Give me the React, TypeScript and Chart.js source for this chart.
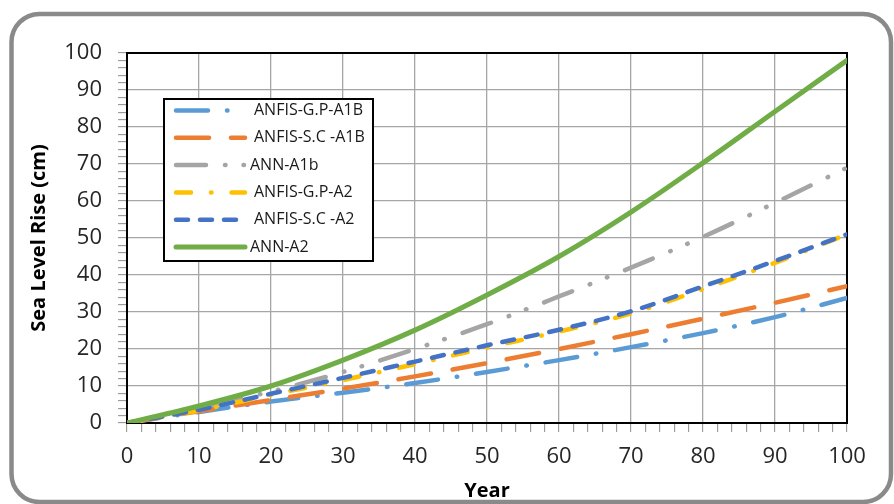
import React, { useEffect, useRef } from "react";
import { Chart, registerables } from "chart.js";

Chart.register(...registerables);

const years = [0, 10, 20, 30, 40, 50, 60, 70, 80, 90, 100];
const seriesNames = ["ANFIS-G.P-A1B", "ANFIS-S.C -A1B", "ANN-A1b", "ANFIS-G.P-A2", "ANFIS-S.C -A2", "ANN-A2"];
const gpA1B = [0, 3, 5.8, 8.2, 10.8, 13.8, 17, 20.5, 24.3, 28.6, 33.8];
const scA1B = [0, 3.2, 6.2, 9.3, 12.6, 16.2, 20, 24, 28.2, 32.5, 37];
const annA1b = [0, 4, 8.5, 13.8, 20, 26.7, 34.2, 42, 50.3, 59.5, 69];
const gpA2 = [0, 3.4, 7.6, 11.6, 15.9, 20.4, 24.7, 29.6, 36.2, 43.3, 51];
const scA2 = [0, 3.6, 7.9, 12.2, 16.6, 21, 25.2, 30.2, 36.9, 43.8, 51];
const annA2 = [0, 4.6, 10, 17, 25.1, 34.6, 45, 57, 70.3, 84.2, 98];
const xTicks = [0, 10, 20, 30, 40, 50, 60, 70, 80, 90, 100];
const yTicks = [0, 10, 20, 30, 40, 50, 60, 70, 80, 90, 100];

const colors = ["#5B9BD5", "#ED7D31", "#A5A5A5", "#FFC000", "#4472C4", "#70AD47"];
const dashes: number[][] = [
  [32, 19, 0.5, 19],
  [33, 22],
  [30, 19, 0.5, 18, 0.5, 19],
  [15, 20, 0.5, 20],
  [12, 12],
  [],
];

const FONT = "'Open Sans', 'Liberation Sans', sans-serif";

const framePlugin = {
  id: "frame",
  beforeDraw(chart: any) {
    const ctx = chart.ctx;
    ctx.save();
    ctx.fillStyle = "#ffffff";
    ctx.fillRect(0, 0, chart.width, chart.height);
    ctx.strokeStyle = "#8a8a8a";
    ctx.lineWidth = 4.5;
    const x = 11.5, y = 14, w = 891 - 11.5, h = 502 - 14, r = 28;
    ctx.beginPath();
    ctx.moveTo(x + r, y);
    ctx.lineTo(x + w - r, y);
    ctx.arcTo(x + w, y, x + w, y + r, r);
    ctx.lineTo(x + w, y + h - r);
    ctx.arcTo(x + w, y + h, x + w - r, y + h, r);
    ctx.lineTo(x + r, y + h);
    ctx.arcTo(x, y + h, x, y + h - r, r);
    ctx.lineTo(x, y + r);
    ctx.arcTo(x, y, x + r, y, r);
    ctx.closePath();
    ctx.stroke();
    ctx.restore();
  },
  beforeDatasetsDraw(chart: any) {
    const { ctx, chartArea } = chart;
    ctx.save();
    ctx.strokeStyle = "#000";
    ctx.lineWidth = 2;
    ctx.strokeRect(chartArea.left, chartArea.top, chartArea.right - chartArea.left, chartArea.bottom - chartArea.top);
    ctx.restore();
  },
  afterDraw(chart: any) {
    const ctx = chart.ctx;
    const bx = 164, by = 99, bw = 209, bh = 162;
    ctx.save();
    ctx.fillStyle = "#fff";
    ctx.fillRect(bx, by, bw, bh);
    ctx.strokeStyle = "#000";
    ctx.lineWidth = 2;
    ctx.strokeRect(bx, by, bw, bh);
    chart.data.datasets.forEach((ds: any, i: number) => {
      const yy = 110.5 + i * 27.3;
      ctx.save();
      ctx.strokeStyle = ds.borderColor;
      ctx.lineWidth = ds.borderWidth;
      ctx.lineCap = "round";
      ctx.setLineDash(ds.borderDash || []);
      ctx.beginPath();
      ctx.moveTo(176, yy);
      ctx.lineTo(245, yy);
      ctx.stroke();
      ctx.restore();
      ctx.fillStyle = "#1a1a1a";
      ctx.font = `16px ${FONT}`;
      ctx.textBaseline = "middle";
      ctx.textAlign = "left";
      ctx.fillText(ds.label, i === 2 || i === 5 ? 250 : 254, yy);
    });
    ctx.restore();
  },
};

const tickLabel = (list: number[]) => (v: any) => (list.includes(Number(v)) ? String(v) : "");

export default function App() {
  const ref = useRef<HTMLCanvasElement | null>(null);
  useEffect(() => {
    if (!ref.current) return;
    const values = [gpA1B, scA1B, annA1b, gpA2, scA2, annA2];
    const chart = new Chart(ref.current, {
      type: "line",
      data: {
        datasets: values.map((vals, i) => ({
          label: seriesNames[i],
          data: years.map((x, j) => ({ x, y: vals[j] })),
          borderColor: colors[i],
          backgroundColor: colors[i],
          borderWidth: i === 5 ? 5 : 4.5,
          borderDash: dashes[i],
          borderCapStyle: "round",
          borderJoinStyle: "round",
          pointRadius: 0,
          fill: false,
          cubicInterpolationMode: "monotone",
          order: 5 - i,
        })),
      },
      options: {
        animation: false,
        responsive: false,
        devicePixelRatio: 1,
        layout: { padding: { top: 53, right: 47, left: 0, bottom: 0 } },
        plugins: { legend: { display: false }, tooltip: { enabled: false } },
        scales: {
          x: {
            type: "linear",
            min: 0,
            max: 100,
            afterFit: (s: any) => {
              s.height = 81;
            },
            ticks: {
              stepSize: 2,
              autoSkip: false,
              maxRotation: 0,
              padding: 12,
              color: "#262626",
              font: { family: FONT, size: 22 },
              callback: tickLabel(xTicks),
            },
            grid: {
              color: (c: any) => (c.tick && c.tick.value % 10 === 0 ? "#A6A6A6" : "rgba(0,0,0,0)"),
              lineWidth: 1.3,
              tickColor: "#8c8c8c",
              tickLength: 9,
              tickWidth: 1,
            },
            border: { display: true, color: "#000", width: 2 },
            title: {
              display: true,
              text: "Year",
              color: "#000",
              font: { family: FONT, size: 20, weight: "bold" },
              padding: { top: 0, bottom: 1 },
            },
          },
          y: {
            type: "linear",
            min: 0,
            max: 100,
            afterFit: (s: any) => {
              s.width = 127;
            },
            ticks: {
              stepSize: 2,
              autoSkip: false,
              padding: 16,
              color: "#262626",
              font: { family: FONT, size: 22 },
              callback: tickLabel(yTicks),
            },
            grid: {
              color: (c: any) => (c.tick && c.tick.value % 10 === 0 ? "#A6A6A6" : "rgba(0,0,0,0)"),
              lineWidth: 1.3,
              tickColor: "#8c8c8c",
              tickLength: 9,
              tickWidth: 1,
            },
            border: { display: true, color: "#000", width: 2 },
            title: {
              display: true,
              text: "Sea Level Rise (cm)",
              color: "#000",
              font: { family: FONT, size: 20, weight: "bold" },
              padding: { top: 27, bottom: 0 },
            },
          },
        },
      },
      plugins: [framePlugin],
    } as any);
    return () => chart.destroy();
  }, []);
  return (
    <div style={{ position: "fixed", left: 0, top: 0, width: 894, height: 504, background: "#fff" }}>
      <canvas ref={ref} width={894} height={504} style={{ display: "block", width: 894, height: 504 }} />
    </div>
  );
}
